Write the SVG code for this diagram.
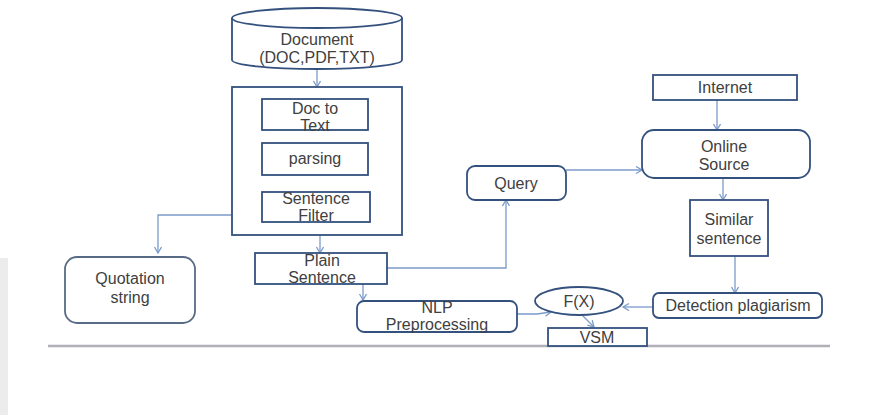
<svg xmlns="http://www.w3.org/2000/svg" width="880" height="415" viewBox="0 0 880 415">
<defs>
<style>
.box{fill:#fff;stroke:#34517e;stroke-width:1.8}
.qbox{fill:#fff;stroke:#586b86;stroke-width:1.8}
.con{fill:none;stroke:#7b9bc9;stroke-width:1.3}
.t{font-family:"Liberation Sans",Arial,sans-serif;font-size:16px;fill:#404040;text-anchor:middle}
</style>
<marker id="ah" markerWidth="10" markerHeight="10" refX="7" refY="4" orient="auto" markerUnits="userSpaceOnUse">
<polyline points="1,0.5 7,4 1,7.5" fill="none" stroke="#7b9bc9" stroke-width="1.3"/>
</marker>
</defs>
<rect x="0" y="0" width="880" height="415" fill="#fff"/>
<rect x="0" y="258" width="8" height="157" fill="#ececec"/>
<line x1="48" y1="346" x2="830" y2="346" stroke="#b0b0b8" stroke-width="2.5"/>

<g id="connectors">
<line class="con" x1="317" y1="69" x2="317" y2="87" marker-end="url(#ah)"/>
<line class="con" x1="315" y1="130" x2="315" y2="143" marker-end="url(#ah)"/>
<line class="con" x1="320" y1="175" x2="320" y2="192" marker-end="url(#ah)"/>
<line class="con" x1="320" y1="208" x2="320" y2="253" marker-end="url(#ah)"/>
<polyline class="con" points="261,215 158,215 158,253" marker-end="url(#ah)"/>
<line class="con" x1="363" y1="284" x2="363" y2="300" marker-end="url(#ah)"/>
<polyline class="con" points="387,268 506,268 506,200" marker-end="url(#ah)"/>
<line class="con" x1="566" y1="170" x2="642" y2="170" marker-end="url(#ah)"/>
<line class="con" x1="717" y1="100" x2="717" y2="130" marker-end="url(#ah)"/>
<line class="con" x1="723" y1="178" x2="723" y2="200" marker-end="url(#ah)"/>
<line class="con" x1="735" y1="256" x2="735" y2="293" marker-end="url(#ah)"/>
<line class="con" x1="653" y1="307" x2="623" y2="307" marker-end="url(#ah)"/>
<polyline class="con" points="517,314 537,314 551,312" marker-end="url(#ah)"/>
<line class="con" x1="582" y1="315" x2="594" y2="327" marker-end="url(#ah)"/>
</g>

<g id="document">
<path class="box" d="M232,18 L232,60 A85,9 0 0 0 402,60 L402,18"/>
<ellipse class="box" cx="317" cy="18" rx="85" ry="10"/>
<text class="t" x="317" y="45">Document</text>
<text class="t" x="317" y="63">(DOC,PDF,TXT)</text>
</g>

<g id="container">
<rect class="box" x="232" y="87" width="170" height="148" fill="none"/>
</g>

<g id="doc-to-text">
<rect class="box" x="262" y="99" width="106" height="31"/>
<text class="t" x="315" y="114">Doc to</text>
<text class="t" x="315" y="131">Text</text>
</g>

<g id="parsing">
<rect class="box" x="262" y="143" width="106" height="32"/>
<text class="t" x="315" y="164">parsing</text>
</g>

<g id="sentence-filter">
<rect class="box" x="262" y="192" width="108" height="30"/>
<text class="t" x="316" y="204">Sentence</text>
<text class="t" x="316" y="221">Filter</text>
</g>

<g id="quotation-string">
<rect class="qbox" x="65" y="257" width="130" height="66" rx="12"/>
<text class="t" x="130" y="284">Quotation</text>
<text class="t" x="130" y="303">string</text>
</g>

<g id="plain-sentence">
<rect class="box" x="255" y="253" width="132" height="31"/>
<text class="t" x="322" y="266">Plain</text>
<text class="t" x="322" y="283">Sentence</text>
</g>

<g id="nlp">
<rect class="box" x="357" y="301" width="160" height="31" rx="7"/>
<text class="t" x="437" y="313">NLP</text>
<text class="t" x="437" y="330">Preprocessing</text>
</g>

<g id="query">
<rect class="box" x="467" y="166" width="99" height="34" rx="8"/>
<text class="t" x="516" y="189">Query</text>
</g>

<g id="internet">
<rect class="box" x="653" y="75" width="144" height="25"/>
<text class="t" x="725" y="93">Internet</text>
</g>

<g id="online-source">
<rect class="box" x="642" y="130" width="168" height="48" rx="12"/>
<text class="t" x="724" y="152">Online</text>
<text class="t" x="724" y="170">Source</text>
</g>

<g id="similar-sentence">
<rect class="box" x="690" y="200" width="78" height="56"/>
<text class="t" x="729" y="225">Similar</text>
<text class="t" x="729" y="244">sentence</text>
</g>

<g id="detection">
<rect class="box" x="653" y="293" width="169" height="25" rx="6"/>
<text class="t" x="738" y="311">Detection plagiarism</text>
</g>

<g id="fx">
<ellipse class="box" cx="579" cy="301" rx="44" ry="14"/>
<text class="t" x="579" y="307">F(X)</text>
</g>

<g id="vsm">
<rect class="box" x="548" y="328" width="99" height="18"/>
<text class="t" x="597" y="343">VSM</text>
</g>
</svg>
